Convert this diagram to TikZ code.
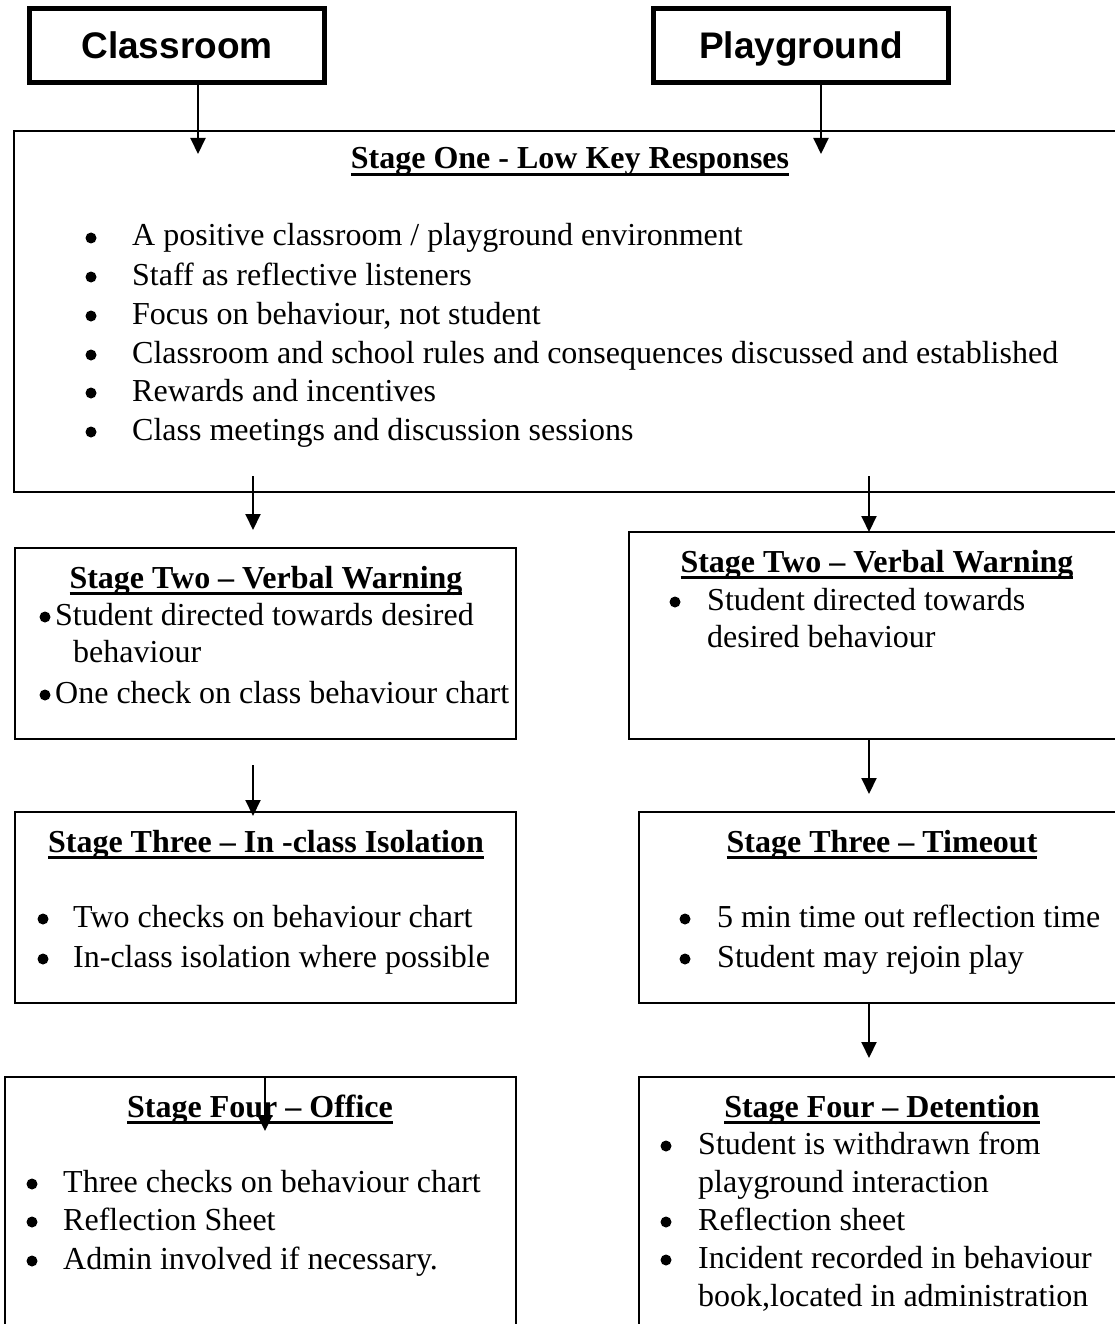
\documentclass[tikz,border=0pt]{standalone}
\usepackage{fontspec}
\setmainfont{Liberation Serif}
\newfontfamily\hsans{Liberation Sans}
\usetikzlibrary{arrows.meta}
\newsavebox\ulsave
\newcommand\ult[1]{\sbox\ulsave{#1}\rlap{\rule[-7pt]{\wd\ulsave}{3.2pt}}\usebox\ulsave}
\tikzset{
  box/.style={draw, line width=2.2pt, inner sep=0pt, outer sep=0pt, anchor=north west},
  headbox/.style={draw, line width=5pt, inner sep=0pt, outer sep=0pt, minimum width=295pt, minimum height=74pt, text depth=0pt, font=\hsans\bfseries\fontsize{37}{40}\selectfont},
  ttl/.style={anchor=base, inner sep=0pt, font=\bfseries\fontsize{32}{39}\selectfont},
  txt/.style={anchor=base west, inner sep=0pt, font=\fontsize{32}{39}\selectfont},
  arr/.style={line width=2pt, -{Triangle[width=15pt,length=16pt]}},
  bul/.style={fill=black}
}
\begin{document}
\begin{tikzpicture}[x=1pt,y=-1pt]
\useasboundingbox (0,0) rectangle (1115,1324);
\begin{scope}
\clip (0,0) rectangle (1115,1324);
% header boxes
\node[headbox] (cls) at (177,45.5) {Classroom};
\node[headbox] (ply) at (801,45.5) {Playground};
% stage boxes
\node[box, minimum width=1116pt, minimum height=361pt] (s1) at (14,131) {};
\node[box, minimum width=501pt, minimum height=191pt] (l2) at (15,548) {};
\node[box, minimum width=500pt, minimum height=207pt] (r2) at (629,532) {};
\node[box, minimum width=501pt, minimum height=191pt] (l3) at (15,812) {};
\node[box, minimum width=490pt, minimum height=191pt] (r3) at (639,812) {};
\node[box, minimum width=511pt, minimum height=280pt] (l4) at (5,1077) {};
\node[box, minimum width=490pt, minimum height=280pt] (r4) at (639,1077) {};
% stage one
\node[ttl] (s1t) at (570,169) {\ult{Stage One - Low Key Responses}};
\foreach \y/\t [count=\i] in {246/{A positive classroom / playground environment},
  285/{Staff as reflective listeners},
  324/{Focus on behaviour, not student},
  363/{Classroom and school rules and consequences discussed and established},
  401/{Rewards and incentives},
  440/{Class meetings and discussion sessions}}{
  \fill[bul] (91,\y-8) circle (5.5pt);
  \node[txt] (s1i\i) at (132,\y) {\t};
}
% left stage two
\node[ttl] (l2t) at (266,588) {\ult{Stage Two – Verbal Warning}};
\fill[bul] (45,617) circle (5.5pt);
\node[txt] (l2a) at (55,625) {Student directed towards desired};
\node[txt] (l2b) at (73,662) {behaviour};
\fill[bul] (45,695) circle (5.5pt);
\node[txt] (l2c) at (55,703) {One check on class behaviour chart};
% right stage two
\node[ttl] (r2t) at (877,572) {\ult{Stage Two – Verbal Warning}};
\fill[bul] (675,602) circle (5.5pt);
\node[txt] (r2a) at (707,610) {Student directed towards};
\node[txt] (r2b) at (707,647) {desired behaviour};
% left stage three
\node[ttl] (l3t) at (266,852) {\ult{Stage Three – In -class Isolation}};
\fill[bul] (43,919) circle (5.5pt);
\node[txt] (l3a) at (73,927) {Two checks on behaviour chart};
\fill[bul] (43,959) circle (5.5pt);
\node[txt] (l3b) at (73,967) {In-class isolation where possible};
% right stage three
\node[ttl] (r3t) at (882,852) {\ult{Stage Three – Timeout}};
\fill[bul] (685,919) circle (5.5pt);
\node[txt] (r3a) at (717,927) {5 min time out reflection time};
\fill[bul] (685,959) circle (5.5pt);
\node[txt] (r3b) at (717,967) {Student may rejoin play};
% left stage four
\node[ttl] (l4t) at (260,1117) {\ult{Stage Four – Office}};
\fill[bul] (32,1184) circle (5.5pt);
\node[txt] (l4a) at (63,1192) {Three checks on behaviour chart};
\fill[bul] (32,1222) circle (5.5pt);
\node[txt] (l4b) at (63,1230) {Reflection Sheet};
\fill[bul] (32,1261) circle (5.5pt);
\node[txt] (l4c) at (63,1269) {Admin involved if necessary.};
% right stage four
\node[ttl] (r4t) at (882,1117) {\ult{Stage Four – Detention}};
\fill[bul] (666,1146) circle (5.5pt);
\node[txt] (r4a) at (698,1154) {Student is withdrawn from};
\node[txt] (r4b) at (698,1192) {playground interaction};
\fill[bul] (666,1222) circle (5.5pt);
\node[txt] (r4c) at (698,1230) {Reflection sheet};
\fill[bul] (666,1260) circle (5.5pt);
\node[txt] (r4d) at (698,1268) {Incident recorded in behaviour};
\node[txt] (r4e) at (698,1306) {book,located in administration};
% connector coordinates
\coordinate (c1) at (198,154);
\coordinate (c2) at (821,154);
\coordinate (c3s) at (253,476);
\coordinate (c3e) at (253,530);
\coordinate (c4s) at (869,476);
\coordinate (c5s) at (253,765);
\coordinate (c5e) at (253,816);
\coordinate (c6e) at (869,794);
\coordinate (c7e) at (869,1058);
\coordinate (c8e) at (265,1131);
% connectors
\draw[arr] (cls.south -| c1) -- (c1);
\draw[arr] (ply.south -| c2) -- (c2);
\draw[arr] (c3s) -- (c3e);
\draw[arr] (c4s) -- (r2.north -| c4s);
\draw[arr] (c5s) -- (c5e);
\draw[arr] (r2.south -| c6e) -- (c6e);
\draw[arr] (r3.south -| c7e) -- (c7e);
\draw[arr] (l4.north -| c8e) -- (c8e);
\end{scope}
\end{tikzpicture}
\end{document}
